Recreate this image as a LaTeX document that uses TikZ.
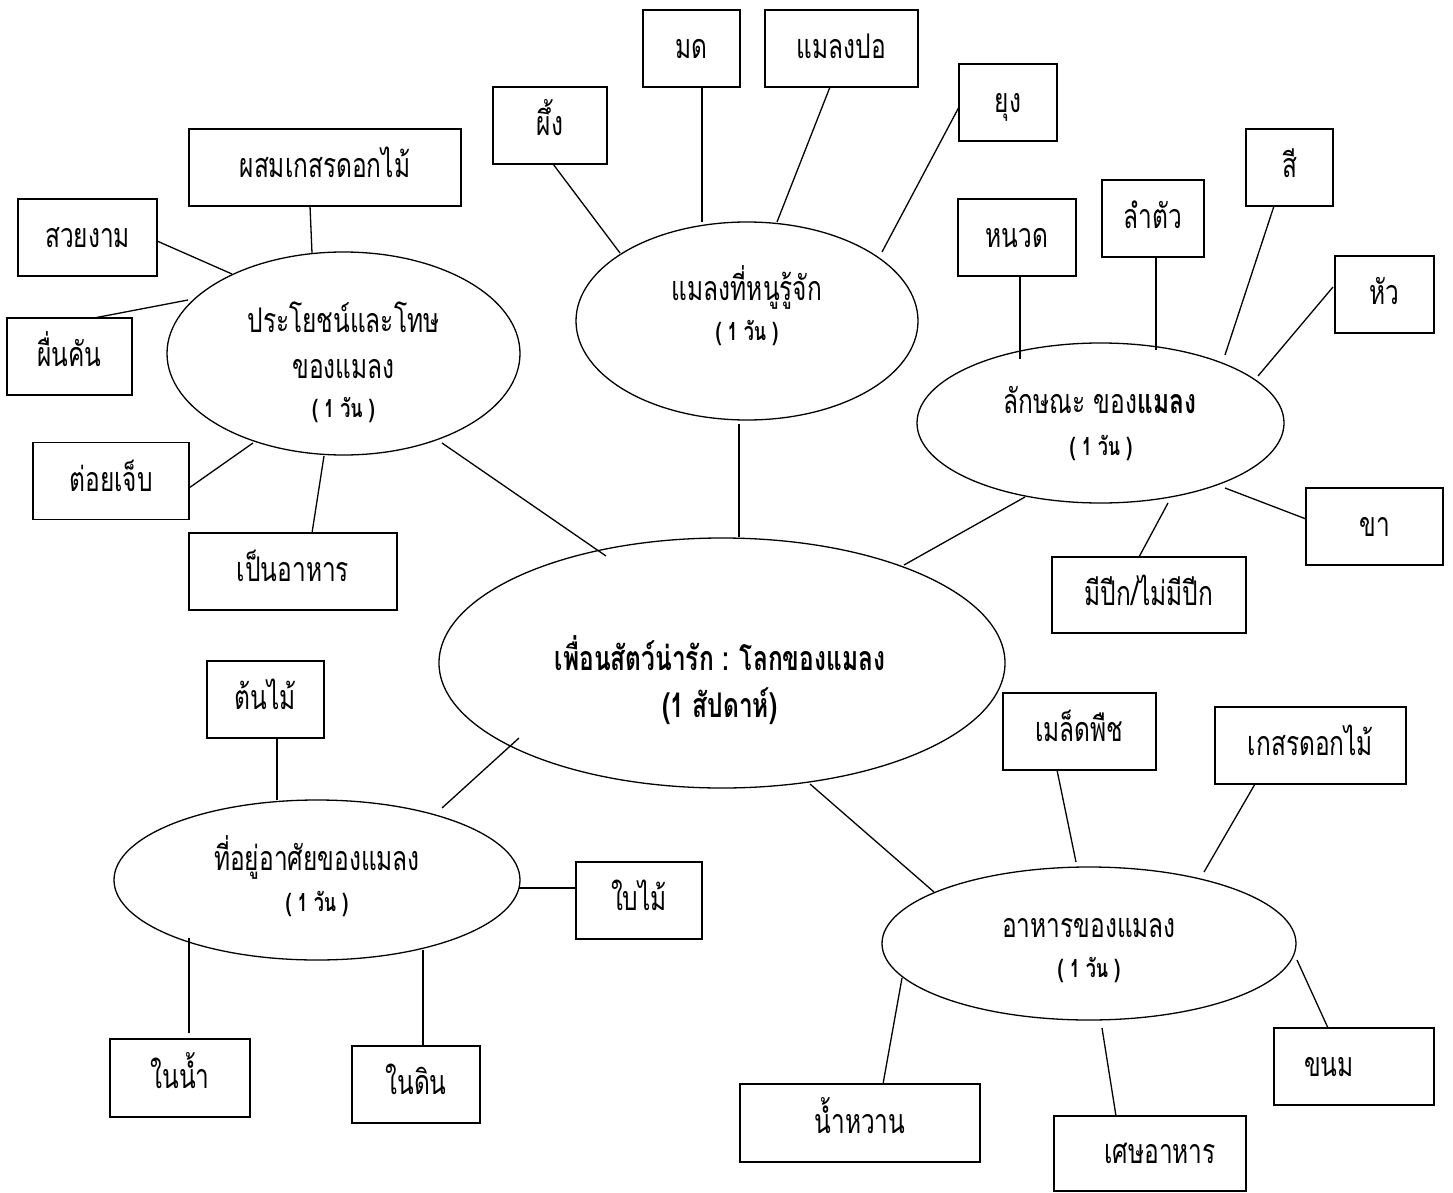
\documentclass[tikz,border=0pt]{standalone}
\usepackage{fontspec}
\setmainfont[Script=Thai,FakeStretch=0.72]{Loma}
\usetikzlibrary{shapes.geometric}
\begin{document}
\begin{tikzpicture}[x=1pt,y=-1pt,
  box/.style={draw, line width=1.8pt, rectangle, inner sep=0pt, minimum height=77pt,
     font=\fontsize{34}{40}\selectfont, text height=24pt, text depth=4pt},
  ell/.style={draw, line width=1.3pt, ellipse, inner sep=0pt},
  txt/.style={anchor=base, inner sep=0pt, font=\fontsize{34}{40}\selectfont},
  btxt/.style={anchor=base, inner sep=0pt, font=\fontsize{34}{40}\selectfont\bfseries},
  stxt/.style={anchor=base, inner sep=0pt, font=\fontsize{25}{30}\selectfont\bfseries},
  con/.style={line width=1.3pt}]
\useasboundingbox (0,0) rectangle (1453,1193);
\fill[white] (0,0) rectangle (1453,1193);

% ---- ellipses ----
\node[ell, minimum width=353pt, minimum height=203pt] (euse) at (343.5,353.5) {};
\node[ell, minimum width=342pt, minimum height=198pt] (eknow) at (747,321) {};
\node[ell, minimum width=367pt, minimum height=160pt] (echar) at (1100.5,423) {};
\node[ell, minimum width=566pt, minimum height=250pt] (ecen) at (722,663) {};
\node[ell, minimum width=406pt, minimum height=160pt] (ehab) at (317,880) {};
\node[ell, minimum width=414pt, minimum height=153pt] (efood) at (1089,943.5) {};

% ---- ellipse texts ----
\node[txt] (euse1) at (343.5,332) {ประโยชน์และโทษ};
\node[txt] (euse2) at (343.5,378) {ของแมลง};
\node[stxt] (euse3) at (343.5,417) {( 1 วัน )};
\node[txt] (eknow1) at (747,300) {แมลงที่หนูรู้จัก};
\node[stxt] (eknow2) at (747,340) {( 1 วัน )};
\node[txt] (echar1) at (1100,413) {ลักษณะ ของ\textbf{แมลง}};
\node[stxt] (echar2) at (1101,455) {( 1 วัน )};
\node[btxt] (ecen1) at (720,670) {เพื่อนสัตว์น่ารัก : โลกของแมลง};
\node[btxt] (ecen2) at (720,717) {(1 สัปดาห์)};
\node[txt] (ehab1) at (317,870) {ที่อยู่อาศัยของแมลง};
\node[stxt] (ehab2) at (317,911) {( 1 วัน )};
\node[txt] (efood1) at (1089,937) {อาหารของแมลง};
\node[stxt] (efood2) at (1089,977) {( 1 วัน )};

% ---- boxes ----
\node[box, minimum width=272pt] (psom) at (325,167.5) {ผสมเกสรดอกไม้};
\node[box, minimum width=139pt] (suay) at (87.5,237.5) {สวยงาม};
\node[box, minimum width=125pt] (puen) at (69.5,356.5) {ผื่นคัน};
\node[box, minimum width=156pt] (toi) at (111,481) {ต่อยเจ็บ};
\node[box, minimum width=208pt] (pen) at (293,571.5) {เป็นอาหาร};
\node[box, minimum width=114pt] (phueng) at (550,125.5) {ผึ้ง};
\node[box, minimum width=97pt] (mod) at (691.5,48.5) {มด};
\node[box, minimum width=153pt] (po) at (841.5,48.5) {แมลงปอ};
\node[box, minimum width=98pt] (yung) at (1008,102.5) {ยุง};
\node[box, minimum width=118pt] (nuad) at (1017,237.5) {หนวด};
\node[box, minimum width=102pt] (lamtua) at (1153,218.5) {ลำตัว};
\node[box, minimum width=87pt] (see) at (1289.5,167.5) {สี};
\node[box, minimum width=99pt] (hua) at (1384.5,294.5) {หัว};
\node[box, minimum width=137pt] (kha) at (1374.5,526.5) {ขา};
\node[box, minimum width=194pt, minimum height=76pt] (peek) at (1149,595) {มีปีก/ไม่มีปีก};
\node[box, minimum width=117pt] (tonmai) at (265.5,699.5) {ต้นไม้};
\node[box, minimum width=126pt] (baimai) at (639,900.5) {ใบไม้};
\node[box, minimum width=140pt, minimum height=78pt] (nainam) at (180,1078) {ในน้ำ};
\node[box, minimum width=128pt] (naidin) at (416,1084.5) {ในดิน};
\node[box, minimum width=153pt] (maled) at (1079.5,731.5) {เมล็ดพืช};
\node[box, minimum width=191pt] (kesorn) at (1310.5,745.5) {เกสรดอกไม้};
\node[box, minimum width=240pt, minimum height=78pt] (namwan) at (860,1123) {น้ำหวาน};
\node[box, minimum width=192pt, minimum height=75pt] (sed) at (1150,1153.5) {\hspace*{20pt}เศษอาหาร};
\node[box, minimum width=160pt] (kanom) at (1354,1066.5) {ขนม\hspace*{50pt}};

% ---- connectors ----
\draw[con] ([shift={(-15,38.5)}]psom.center) -- ([shift={(-31.5,-100.5)}]euse.center);
\draw[con] ([shift={(69.5,3.5)}]suay.center) -- ([shift={(-111.5,-79.5)}]euse.center);
\draw[con] ([shift={(24.5,-38.5)}]puen.center) -- ([shift={(-155.5,-53.5)}]euse.center);
\draw[con] ([shift={(78,7)}]toi.center) -- ([shift={(-90.5,89.5)}]euse.center);
\draw[con] ([shift={(19,-38.5)}]pen.center) -- ([shift={(-19.5,102.5)}]euse.center);
\draw[con] ([shift={(98.5,89.5)}]euse.center) -- ([shift={(-116,-107)}]ecen.center);

\draw[con] ([shift={(3,38.5)}]phueng.center) -- ([shift={(-127,-68)}]eknow.center);
\draw[con] ([shift={(10.5,38.5)}]mod.center) -- ([shift={(-45,-99)}]eknow.center);
\draw[con] ([shift={(-11.5,38.5)}]po.center) -- ([shift={(30,-99)}]eknow.center);
\draw[con] ([shift={(-49,4.5)}]yung.center) -- ([shift={(135,-69)}]eknow.center);
\draw[con] ([shift={(-8,103)}]eknow.center) -- ([shift={(17,-126)}]ecen.center);

\draw[con] ([shift={(3,38.5)}]nuad.center) -- ([shift={(-80.5,-64)}]echar.center);
\draw[con] ([shift={(3,38.5)}]lamtua.center) -- ([shift={(55.5,-73)}]echar.center);
\draw[con] ([shift={(-15.5,38.5)}]see.center) -- ([shift={(124.5,-68)}]echar.center);
\draw[con] ([shift={(-51.5,-7.5)}]hua.center) -- ([shift={(157.5,-47)}]echar.center);
\draw[con] ([shift={(-68.5,-7.5)}]kha.center) -- ([shift={(124.5,65)}]echar.center);
\draw[con] ([shift={(-10,-38)}]peek.center) -- ([shift={(67.5,80)}]echar.center);
\draw[con] ([shift={(-75.5,74)}]echar.center) -- ([shift={(182,-98)}]ecen.center);

\draw[con] ([shift={(11.5,38.5)}]tonmai.center) -- ([shift={(-40,-80)}]ehab.center);
\draw[con] ([shift={(125,-72)}]ehab.center) -- ([shift={(-203,75)}]ecen.center);
\draw[con] ([shift={(-63,-12.5)}]baimai.center) -- ([shift={(202,8)}]ehab.center);
\draw[con] ([shift={(9,-45)}]nainam.center) -- ([shift={(-128,58)}]ehab.center);
\draw[con] ([shift={(7,-38.5)}]naidin.center) -- ([shift={(106,70)}]ehab.center);

\draw[con] ([shift={(88,121)}]ecen.center) -- ([shift={(-155,-51.5)}]efood.center);
\draw[con] ([shift={(-22.5,38.5)}]maled.center) -- ([shift={(-13,-81.5)}]efood.center);
\draw[con] ([shift={(-55.5,38.5)}]kesorn.center) -- ([shift={(115,-71.5)}]efood.center);
\draw[con] ([shift={(23,-39)}]namwan.center) -- ([shift={(-187,34.5)}]efood.center);
\draw[con] ([shift={(-34,-37.5)}]sed.center) -- ([shift={(13,84.5)}]efood.center);
\draw[con] ([shift={(-26,-38.5)}]kanom.center) -- ([shift={(208,16.5)}]efood.center);
\end{tikzpicture}
\end{document}
